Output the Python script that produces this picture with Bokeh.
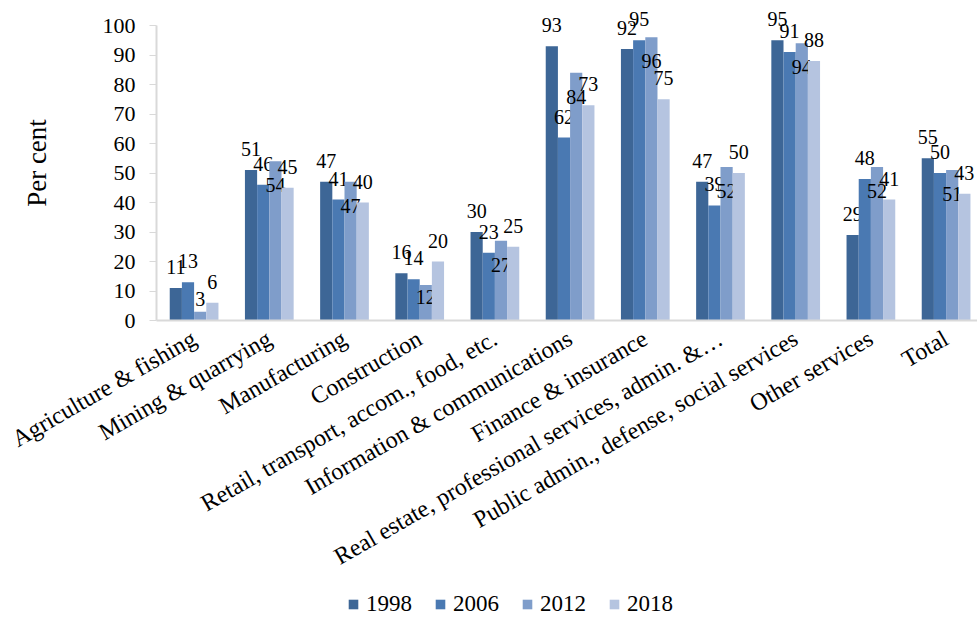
from math import pi
from bokeh.plotting import figure
from bokeh.layouts import column
from bokeh.models import ColumnDataSource, Range1d, Legend, LegendItem, FixedTicker
from bokeh.transform import dodge
from bokeh.core.properties import value
from bokeh.embed import file_html
from bokeh.resources import INLINE

categories = [
    "Agriculture & fishing",
    "Mining & quarrying",
    "Manufacturing",
    "Construction",
    "Retail, transport, accom., food, etc.",
    "Information & communications",
    "Finance & insurance",
    "Real estate, professional services, admin. &\u2026",
    "Public admin., defense, social services",
    "Other services",
    "Total",
]
years = ["1998", "2006", "2012", "2018"]
values_1998 = [11, 51, 47, 16, 30, 93, 92, 47, 95, 29, 55]
values_2006 = [13, 46, 41, 14, 23, 62, 95, 39, 91, 48, 50]
values_2012 = [3, 54, 47, 12, 27, 84, 96, 52, 94, 52, 51]
values_2018 = [6, 45, 40, 20, 25, 73, 75, 50, 88, 41, 43]
series = [values_1998, values_2006, values_2012, values_2018]
colors = ["#3D6696", "#4A79B2", "#7F9DCA", "#B5C4E0"]

FONT = "'Liberation Serif', serif"
W, H = 977, 618
LEG_H = 33
MAIN_H = H - LEG_H
FRAME_L, FRAME_T, FRAME_B = 156, 5, 320
CAT_PX = 75.2
PX_PER_UNIT = 2.95

p = figure(width=W, height=MAIN_H, output_backend="svg", toolbar_location=None,
           x_range=Range1d(-0.5, -0.5 + (W - FRAME_L) / CAT_PX),
           y_range=Range1d(0, (FRAME_B - FRAME_T) / PX_PER_UNIT),
           min_border_left=FRAME_L, min_border_right=0, min_border_top=FRAME_T,
           min_border_bottom=MAIN_H - FRAME_B, title=None)

idx = list(range(len(categories)))
bw = 0.162
offsets = [-1.5 * bw, -0.5 * bw, 0.5 * bw, 1.5 * bw]
for k, (yr, vals, col) in enumerate(zip(years, series, colors)):
    if k == 2:
        yoff = [(24 if v >= 20 else 12) if v >= 10 else -13 for v in vals]
    else:
        yoff = [-21 for v in vals]
    src = ColumnDataSource(dict(x=idx, top=vals, label=[str(v) for v in vals], yoff=yoff))
    p.vbar(x=dodge('x', offsets[k]), top='top', width=bw, source=src,
           fill_color=col, line_color=None)
    p.text(x=dodge('x', offsets[k]), y='top', text='label', y_offset='yoff', source=src,
           text_align='center', text_baseline='middle', text_font=value(FONT),
           text_font_size="20px", text_color="black")

p.xgrid.visible = False
p.ygrid.visible = False
p.outline_line_color = None

ya = p.yaxis[0]
ya.bounds = (0, 100)
ya.ticker = FixedTicker(ticks=list(range(0, 101, 10)))
ya.minor_tick_line_color = None
ya.major_tick_out = 7
ya.major_tick_in = 0
ya.major_tick_line_color = "#D9D9D9"
ya.axis_line_color = "#D9D9D9"
ya.axis_line_width = 2
ya.major_label_text_font = FONT
ya.major_label_text_font_size = "22px"
ya.major_label_text_color = "black"
ya.major_label_standoff = 14
ya.axis_label = "Per cent"
ya.axis_label_text_font = FONT
ya.axis_label_text_font_size = "27px"
ya.axis_label_text_font_style = "normal"
ya.axis_label_text_color = "black"
ya.axis_label_standoff = 48

xa = p.xaxis[0]
xa.ticker = FixedTicker(ticks=idx)
xa.major_label_overrides = {i: c for i, c in enumerate(categories)}
xa.major_label_orientation = pi / 6
xa.major_tick_line_color = None
xa.minor_tick_line_color = None
xa.axis_line_color = "#D9D9D9"
xa.axis_line_width = 2
xa.major_label_text_font = FONT
xa.major_label_text_font_size = "24px"
xa.major_label_text_color = "black"
xa.major_label_standoff = 10

# legend strip below the chart
lf = figure(width=W, height=LEG_H, output_backend="svg", toolbar_location=None,
            x_range=Range1d(0, 1), y_range=Range1d(0, 1),
            x_axis_location=None, y_axis_location=None, min_border=0, title=None)
lf.xgrid.visible = False
lf.ygrid.visible = False
lf.outline_line_color = None
items = []
for yr, col in zip(years, colors):
    r = lf.vbar(x=[0.5], top=[0], bottom=[0], width=0, fill_color=col, line_color=None)
    items.append(LegendItem(label=yr, renderers=[r]))
legend = Legend(items=items, orientation="horizontal", location=(191, 1),
                label_text_font=FONT, label_text_font_size="23px", label_text_color="black",
                glyph_width=12, glyph_height=12, label_standoff=7, spacing=22,
                padding=0, margin=0, border_line_color=None, background_fill_alpha=0)
lf.add_layout(legend, "center")

open("out.html", "w").write(file_html(column(p, lf, spacing=0), INLINE))
